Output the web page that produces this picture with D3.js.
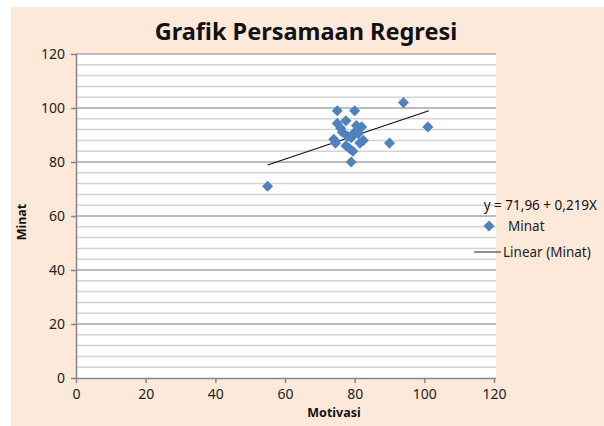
<!DOCTYPE html>
<html>
<head>
<meta charset="utf-8">
<script src="https://cdn.jsdelivr.net/npm/d3@7"></script>
<style>
  html, body { margin: 0; padding: 0; background: #fff; }
  svg { display: block; }
  text { font-family: "Noto Sans", "Open Sans", sans-serif; }
</style>
</head>
<body>
<div id="chart"></div>
<script>
// Motivasi (x) vs Minat (y)
const motivasi = [55, 75, 80, 94, 101, 90, 75, 77.5, 76, 82, 80, 74, 74.5, 82.5, 78.5, 77.5, 79.5, 79, 81, 79, 76.5, 80.5, 81.5, 78];
const minat    = [71, 99, 99, 102, 93, 87, 94.3, 95.3, 92.5, 93, 91, 88.4, 87, 88, 85, 86, 84, 80, 90.5, 89, 91, 93.5, 87, 89.5];

// trend line as drawn (endpoints)
const trendX = [55, 101.3];
const trendY = [78.9, 99.0];

const xTicks = [0, 20, 40, 60, 80, 100, 120];
const yTicks = [0, 20, 40, 60, 80, 100, 120];
const yMinor = d3.range(0, 121, 4);

const width = 604, height = 426;
const plot = { left: 76, right: 496, top: 54, bottom: 378 };

const svg = d3.select('#chart').append('svg')
  .attr('width', width)
  .attr('height', height);

// peach chart area
svg.append('rect')
  .attr('x', 11).attr('y', 7)
  .attr('width', width - 11).attr('height', height - 7)
  .attr('fill', '#fde9d9');

// plot area
svg.append('rect')
  .attr('x', plot.left).attr('y', plot.top)
  .attr('width', plot.right - plot.left).attr('height', plot.bottom - plot.top)
  .attr('fill', '#fff');

const x = d3.scaleLinear().domain([0, 120]).range([plot.left, plot.left + 418]);
const y = d3.scaleLinear().domain([0, 120]).range([plot.bottom, plot.top]);

// minor gridlines
svg.append('g').selectAll('line')
  .data(yMinor.filter(v => v % 20 !== 0))
  .enter().append('line')
  .attr('x1', plot.left).attr('x2', plot.right)
  .attr('y1', d => y(d)).attr('y2', d => y(d))
  .attr('stroke', '#d4d4d4')
  .attr('stroke-width', 1.5);

// major gridlines
svg.append('g').selectAll('line')
  .data(yTicks.filter(v => v > 0))
  .enter().append('line')
  .attr('x1', plot.left).attr('x2', plot.right)
  .attr('y1', d => y(d)).attr('y2', d => y(d))
  .attr('stroke', '#a6a6a6')
  .attr('stroke-width', 1.5);

// axes
const yAxis = svg.append('g')
  .attr('transform', `translate(${plot.left},0)`)
  .call(d3.axisLeft(y).tickValues(yTicks).tickSize(5).tickPadding(6));

const xAxis = svg.append('g')
  .attr('transform', `translate(0,${plot.bottom})`)
  .call(d3.axisBottom(x).tickValues(xTicks).tickSize(5).tickPadding(6));

[xAxis, yAxis].forEach(a => {
  a.select('.domain').attr('stroke', '#868686').attr('stroke-width', 1.5);
  a.selectAll('.tick line').attr('stroke', '#868686').attr('stroke-width', 1.5);
  a.selectAll('.tick text')
    .style('font-size', '14px')
    .style('font-family', '"Noto Sans", sans-serif')
    .attr('fill', '#222');
});
xAxis.select('.domain').attr('d', `M${plot.left},0.5H${plot.right}`);
yAxis.select('.domain').attr('d', `M0.5,${plot.bottom}V${plot.top}`);
yAxis.selectAll('.tick line').attr('x1', 0).attr('x2', -5);

// trend line
svg.append('path')
  .datum(trendX.map((v, i) => [v, trendY[i]]))
  .attr('d', d3.line().x(d => x(d[0])).y(d => y(d[1])))
  .attr('stroke', '#111')
  .attr('stroke-width', 1.2)
  .attr('fill', 'none');

// points
const diamond = d3.symbol().type(d3.symbolDiamond2).size(78);
svg.append('g').selectAll('path')
  .data(motivasi.map((v, i) => [v, minat[i]]))
  .enter().append('path')
  .attr('d', diamond)
  .attr('transform', d => `translate(${x(d[0])},${y(d[1])})`)
  .attr('fill', '#4f81bd');

// title
svg.append('text')
  .attr('x', 306).attr('y', 40)
  .attr('text-anchor', 'middle')
  .style('font-size', '23.5px')
  .style('font-weight', 'bold')
  .attr('fill', '#111')
  .text('Grafik Persamaan Regresi');

// axis titles
svg.append('text')
  .attr('x', 334).attr('y', 417)
  .attr('text-anchor', 'middle')
  .style('font-size', '12.5px')
  .style('font-weight', 'bold')
  .attr('fill', '#111')
  .text('Motivasi');

svg.append('text')
  .attr('transform', 'translate(26,222) rotate(-90)')
  .attr('text-anchor', 'middle')
  .style('font-size', '12.5px')
  .style('font-weight', 'bold')
  .attr('fill', '#111')
  .text('Minat');

// equation + legend
svg.append('text')
  .attr('x', 597).attr('y', 210)
  .attr('text-anchor', 'end')
  .style('font-size', '13.5px')
  .attr('fill', '#111')
  .text('y = 71,96 + 0,219X');

svg.append('path')
  .attr('d', diamond)
  .attr('transform', 'translate(489,226)')
  .attr('fill', '#4f81bd');
svg.append('text')
  .attr('x', 508).attr('y', 231)
  .style('font-size', '13.5px')
  .attr('fill', '#222')
  .text('Minat');

svg.append('line')
  .attr('x1', 474).attr('x2', 501)
  .attr('y1', 252).attr('y2', 252)
  .attr('stroke', '#444')
  .attr('stroke-width', 1.2);
svg.append('text')
  .attr('x', 503).attr('y', 257)
  .style('font-size', '13.5px')
  .attr('fill', '#222')
  .text('Linear (Minat)');
</script>
</body>
</html>
